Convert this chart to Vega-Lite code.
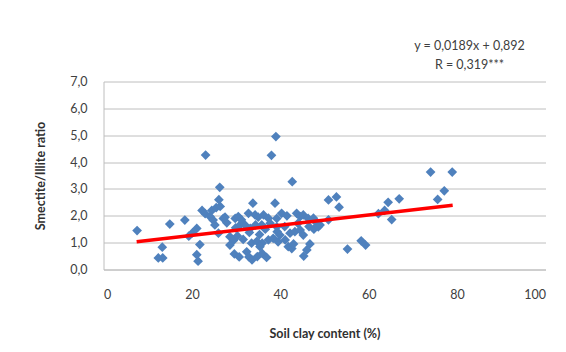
{
  "$schema": "https://vega.github.io/schema/vega-lite/v6.json",
  "width": 442,
  "height": 188,
  "autosize": {"type": "none"},
  "padding": {"left": 103.5, "top": 81.5, "right": 20.5, "bottom": 82.5},
  "background": "white",
  "config": {"view": {"stroke": null}, "font": "Lato"},
  "title": {
    "text": ["y = 0,0189x + 0,892", "R = 0,319***"],
    "anchor": "end",
    "align": "center",
    "dx": -76,
    "offset": 4,
    "fontSize": 12.5,
    "fontWeight": "normal",
    "lineHeight": 19,
    "color": "#404040"
  },
  "datasets": {
    "points": [
      {"clay": 7.6, "ratio": 1.45}, {"clay": 12.4, "ratio": 0.43}, {"clay": 13.4, "ratio": 0.43}, {"clay": 13.3, "ratio": 0.83},
      {"clay": 15.0, "ratio": 1.69}, {"clay": 18.4, "ratio": 1.84}, {"clay": 19.3, "ratio": 1.24}, {"clay": 20.1, "ratio": 1.36},
      {"clay": 21.1, "ratio": 1.53}, {"clay": 21.8, "ratio": 0.93}, {"clay": 21.1, "ratio": 0.55}, {"clay": 21.4, "ratio": 0.31},
      {"clay": 22.3, "ratio": 2.2}, {"clay": 23.1, "ratio": 4.26}, {"clay": 23.0, "ratio": 2.08}, {"clay": 24.1, "ratio": 1.97},
      {"clay": 24.5, "ratio": 2.2}, {"clay": 24.8, "ratio": 1.84}, {"clay": 25.2, "ratio": 1.66}, {"clay": 25.5, "ratio": 2.3},
      {"clay": 26.4, "ratio": 2.35}, {"clay": 26.1, "ratio": 2.6}, {"clay": 26.3, "ratio": 3.06}, {"clay": 26.0, "ratio": 1.35},
      {"clay": 27.1, "ratio": 1.9}, {"clay": 27.9, "ratio": 1.74}, {"clay": 27.5, "ratio": 1.95}, {"clay": 28.6, "ratio": 1.22},
      {"clay": 29.4, "ratio": 1.08}, {"clay": 28.6, "ratio": 0.91}, {"clay": 29.6, "ratio": 0.58}, {"clay": 29.8, "ratio": 1.9},
      {"clay": 30.5, "ratio": 1.97}, {"clay": 30.7, "ratio": 0.47}, {"clay": 29.9, "ratio": 1.55}, {"clay": 30.9, "ratio": 1.66},
      {"clay": 31.6, "ratio": 1.12}, {"clay": 32.0, "ratio": 1.66}, {"clay": 32.4, "ratio": 0.66}, {"clay": 32.8, "ratio": 2.09},
      {"clay": 32.9, "ratio": 0.47}, {"clay": 33.2, "ratio": 1.53}, {"clay": 33.5, "ratio": 0.98}, {"clay": 33.6, "ratio": 0.36},
      {"clay": 33.8, "ratio": 2.47}, {"clay": 34.3, "ratio": 2.03}, {"clay": 34.4, "ratio": 1.66}, {"clay": 34.7, "ratio": 1.05},
      {"clay": 34.8, "ratio": 0.48}, {"clay": 35.3, "ratio": 1.3}, {"clay": 35.8, "ratio": 1.66}, {"clay": 35.9, "ratio": 0.98},
      {"clay": 35.9, "ratio": 0.6}, {"clay": 36.2, "ratio": 2.03}, {"clay": 36.9, "ratio": 0.45}, {"clay": 37.3, "ratio": 1.1},
      {"clay": 37.3, "ratio": 1.91}, {"clay": 37.7, "ratio": 1.72}, {"clay": 38.0, "ratio": 4.25}, {"clay": 38.4, "ratio": 1.16},
      {"clay": 38.8, "ratio": 2.47}, {"clay": 39.0, "ratio": 4.95}, {"clay": 39.2, "ratio": 1.9}, {"clay": 39.2, "ratio": 1.59},
      {"clay": 39.3, "ratio": 1.41}, {"clay": 39.5, "ratio": 1.03}, {"clay": 39.9, "ratio": 1.28}, {"clay": 40.3, "ratio": 2.09},
      {"clay": 41.0, "ratio": 1.6}, {"clay": 41.1, "ratio": 1.1}, {"clay": 41.5, "ratio": 2.0}, {"clay": 41.8, "ratio": 0.85},
      {"clay": 42.2, "ratio": 1.35}, {"clay": 42.6, "ratio": 0.78}, {"clay": 42.7, "ratio": 3.27}, {"clay": 43.3, "ratio": 1.41},
      {"clay": 43.7, "ratio": 2.09}, {"clay": 44.0, "ratio": 1.72}, {"clay": 44.5, "ratio": 1.97}, {"clay": 44.5, "ratio": 1.47},
      {"clay": 45.2, "ratio": 2.03}, {"clay": 45.2, "ratio": 1.28}, {"clay": 45.3, "ratio": 0.5}, {"clay": 46.0, "ratio": 0.73},
      {"clay": 46.3, "ratio": 1.9}, {"clay": 46.5, "ratio": 1.6}, {"clay": 46.7, "ratio": 0.95}, {"clay": 47.5, "ratio": 1.91},
      {"clay": 47.6, "ratio": 1.5}, {"clay": 48.3, "ratio": 1.72}, {"clay": 48.6, "ratio": 1.59}, {"clay": 49.0, "ratio": 1.66},
      {"clay": 50.9, "ratio": 2.59}, {"clay": 50.9, "ratio": 1.85}, {"clay": 52.7, "ratio": 2.7}, {"clay": 53.3, "ratio": 2.32},
      {"clay": 55.2, "ratio": 0.76}, {"clay": 58.3, "ratio": 1.07}, {"clay": 59.3, "ratio": 0.91}, {"clay": 62.2, "ratio": 2.08},
      {"clay": 63.6, "ratio": 2.2}, {"clay": 64.4, "ratio": 2.5}, {"clay": 65.2, "ratio": 1.86}, {"clay": 66.9, "ratio": 2.63},
      {"clay": 74.0, "ratio": 3.63}, {"clay": 75.6, "ratio": 2.61}, {"clay": 77.1, "ratio": 2.93}, {"clay": 78.9, "ratio": 3.63},
      {"clay": 31.2, "ratio": 1.85}, {"clay": 33.0, "ratio": 1.38}, {"clay": 36.6, "ratio": 1.5}, {"clay": 30.3, "ratio": 1.25},
      {"clay": 35.0, "ratio": 1.95}, {"clay": 35.4, "ratio": 0.85}, {"clay": 43.0, "ratio": 0.95}
    ],
    "fit": [
      {"clay": 7.5, "ratio": 1.03},
      {"clay": 79.0, "ratio": 2.39}
    ]
  },
  "encoding": {
    "x": {
      "field": "clay", "type": "quantitative",
      "scale": {"domain": [0, 100], "nice": false, "zero": true},
      "axis": {
        "tickCount": 5,
        "grid": false, "domain": true, "domainColor": "#BEBEBE", "ticks": false,
        "labelOverlap": false,
        "labelPadding": 19, "labelFontSize": 12.5, "labelColor": "#404040",
        "title": "Soil clay content (%)", "titleFontSize": 12.5, "titleFontWeight": "bold",
        "titleColor": "#303030", "titlePadding": 26
      }
    },
    "y": {
      "field": "ratio", "type": "quantitative",
      "scale": {"domain": [0, 7], "nice": false, "zero": true},
      "axis": {
        "values": {"expr": "[0, 1, 2, 3, 4, 5, 6, 7]"},
        "tickCount": 8,
        "tickMinStep": 1,
        "grid": true, "gridColor": "#BEBEBE", "gridWidth": 1,
        "domain": true, "domainColor": "#BEBEBE", "ticks": false,
        "labelOverlap": false,
        "labelExpr": "replace(format(datum.value, '.1f'), '.', ',')",
        "labelPadding": 16.5, "labelFontSize": 12.5, "labelColor": "#404040",
        "title": "Smectite/Illite ratio", "titleFontSize": 12.5, "titleFontWeight": "bold",
        "titleColor": "#303030", "titlePadding": 22
      }
    }
  },
  "layer": [
    {
      "data": {"name": "points"},
      "mark": {"type": "point", "shape": "diamond", "filled": true, "size": 95, "color": "#4F81BD", "opacity": 1}
    },
    {
      "data": {"name": "fit"},
      "mark": {"type": "line", "color": "#FF0000", "strokeWidth": 3.5}
    }
  ]
}
